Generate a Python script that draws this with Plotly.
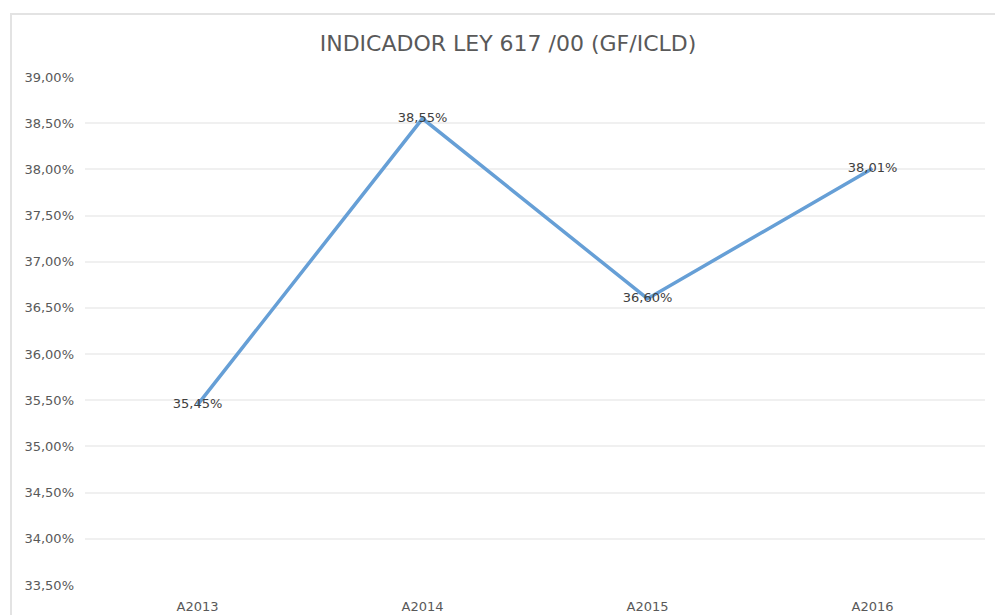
import plotly.graph_objects as go

categories = ["A2013", "A2014", "A2015", "A2016"]
values = [35.45, 38.55, 36.60, 38.01]
labels = ["35,45%", "38,55%", "36,60%", "38,01%"]
ytick_vals = [33.5, 34.0, 34.5, 35.0, 35.5, 36.0, 36.5, 37.0, 37.5, 38.0, 38.5, 39.0]
ytick_text = ["33,50%", "34,00%", "34,50%", "35,00%", "35,50%", "36,00%",
              "36,50%", "37,00%", "37,50%", "38,00%", "38,50%", "39,00%"]
title = "INDICADOR LEY 617 /00 (GF/ICLD)"

FONT = "DejaVu Sans, sans-serif"

fig = go.Figure()
fig.add_trace(go.Scatter(
    x=categories, y=values, mode="lines+text",
    line=dict(color="#669fd6", width=3.5),
    text=labels, textposition="middle center",
    textfont=dict(family=FONT, size=13, color="#404040"),
    cliponaxis=False, showlegend=False, hoverinfo="skip",
))

fig.update_layout(
    width=995, height=615,
    margin=dict(l=85, r=10, t=77, b=30, autoexpand=False),
    paper_bgcolor="white", plot_bgcolor="white",
    title=dict(text=title, x=508/995, xanchor="center", y=1 - 43/615, yanchor="middle",
               font=dict(family=FONT, size=22, color="#595959")),
    xaxis=dict(type="category", range=[-0.5, 3.5], showgrid=False, zeroline=False,
               showline=False, ticks="outside", ticklen=9, tickcolor="rgba(0,0,0,0)",
               automargin=False,
               tickfont=dict(family=FONT, size=13, color="#595959")),
    yaxis=dict(range=[33.5, 39.0], tickvals=ytick_vals, ticktext=ytick_text,
               showgrid=True, gridcolor="#f0f0f0", gridwidth=1.5, zeroline=False,
               showline=False, ticks="", ticklabelstandoff=10, automargin=False,
               tickfont=dict(family=FONT, size=13, color="#595959")),
    shapes=[dict(type="rect", xref="paper", yref="paper",
                 x0=(11 - 85) / 900, x1=1.2, y0=-0.2, y1=(585 - 14) / 508,
                 line=dict(color="#e3e3e3", width=2), fillcolor="rgba(0,0,0,0)", layer="below")],
)
fig.write_html("out.html", config={"displayModeBar": False},
               post_script="document.body.style.margin='0';document.body.style.overflow='hidden';")
